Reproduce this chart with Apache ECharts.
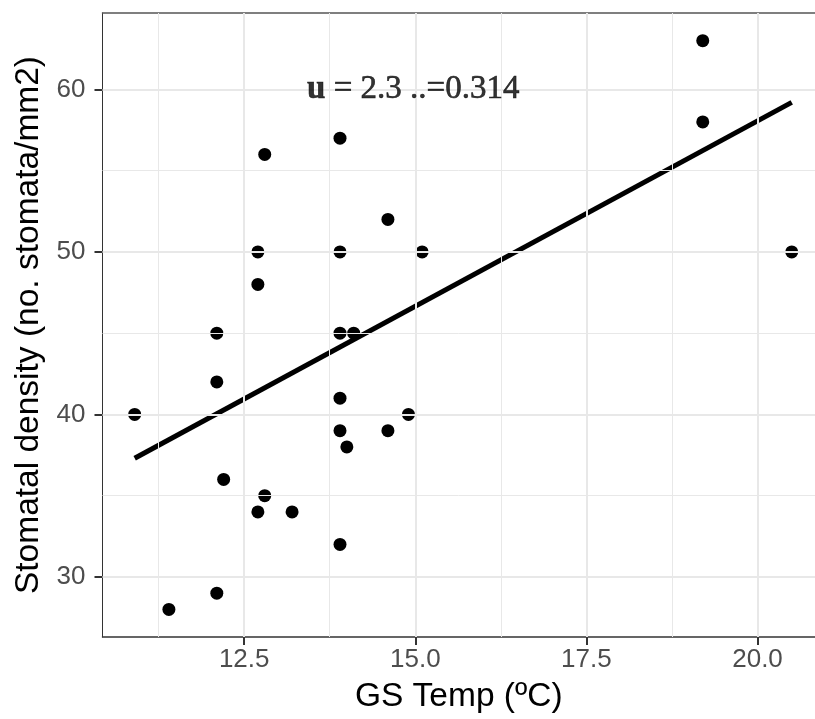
<!DOCTYPE html>
<html>
<head>
<meta charset="utf-8">
<title>Stomatal density vs GS Temp</title>
<script src="https://cdn.jsdelivr.net/npm/echarts@6/dist/echarts.min.js"></script>
<style>
  html, body { margin: 0; padding: 0; background: #fff; }
  #main { width: 815px; height: 719px; }
</style>
</head>
<body>
<div id="main"></div>
<script>
// points: [GS temp, stomatal density]
var gsTemp = [12.8, 13.9, 14.6, 12.7, 13.9, 15.1, 12.7, 12.1, 13.9, 14.1, 12.1, 13.9, 10.9, 14.9,
              13.9, 14.6, 14.0, 12.2, 12.8, 12.7, 13.2, 13.9, 12.1, 11.4, 19.2, 19.2, 20.5];
var density = [56, 57, 52, 50, 50, 50, 48, 45, 45, 45, 42, 41, 40, 40,
               39, 39, 38, 36, 35, 34, 34, 32, 29, 28, 63, 58, 50];

// fitted line ends
var fitX = [10.9, 20.5];
var fitY = [37.3, 59.2];

// axes
var xRange = [10.43, 20.84];
var yRange = [26.3, 64.7];
var xTicks = [12.5, 15.0, 17.5, 20.0];
var xMinor = [11.25, 13.75, 16.25, 18.75];
var yTicks = [30, 40, 50, 60];
var yMinor = [35, 45, 55];

var annotText = '{b|u} = 2.3 ..=0.314';
var annotAt = [14.97, 60];

var points = [];
for (var i = 0; i < gsTemp.length; i++) {
    points.push([gsTemp[i], density[i]]);
}
var fitLine = [[fitX[0], fitY[0]], [fitX[1], fitY[1]]];

function gridLines(vals, key, width) {
    return vals.map(function (v) {
        var o = {};
        o[key] = v;
        o.lineStyle = { width: width };
        return o;
    });
}
var gridData = []
    .concat(gridLines(xMinor, 'xAxis', 1))
    .concat(gridLines(yMinor, 'yAxis', 1))
    .concat(gridLines(xTicks, 'xAxis', 2))
    .concat(gridLines(yTicks, 'yAxis', 2));

var tickFont = { fontFamily: 'Liberation Sans, Arial, sans-serif', fontSize: 26, color: '#4d4d4d' };
var titleFont = { fontFamily: 'Liberation Sans, Arial, sans-serif', fontSize: 33.5, color: '#000' };

var myChart = echarts.init(document.getElementById('main'));
var option = {
    animation: false,
    backgroundColor: '#ffffff',
    grid: { left: 102.5, right: 0, top: 13, bottom: 81.5 },
    xAxis: [{
        type: 'value',
        min: xRange[0],
        max: xRange[1],
        name: 'GS Temp (ºC)',
        nameLocation: 'middle',
        nameGap: 43,
        nameTextStyle: titleFont,
        axisLine: { show: true, onZero: false, lineStyle: { color: '#333', width: 1.5 } },
        axisTick: { show: true, length: 8, lineStyle: { color: '#333', width: 2 }, customValues: xTicks },
        axisLabel: Object.assign({ margin: 10, customValues: xTicks,
            formatter: function (v) { return v.toFixed(1); } }, tickFont),
        splitLine: { show: false }
    }, {
        type: 'value',
        position: 'top',
        min: xRange[0],
        max: xRange[1],
        axisLine: { show: true, onZero: false, lineStyle: { color: '#555', width: 1.5 } },
        axisTick: { show: false },
        axisLabel: { show: false },
        splitLine: { show: false }
    }],
    yAxis: {
        type: 'value',
        min: yRange[0],
        max: yRange[1],
        name: 'Stomatal density (no. stomata/mm2)',
        nameLocation: 'middle',
        nameGap: 54,
        nameTextStyle: titleFont,
        axisLine: { show: true, onZero: false, lineStyle: { color: '#333', width: 1 } },
        axisTick: { show: true, length: 8, lineStyle: { color: '#333', width: 2 }, customValues: yTicks },
        axisLabel: Object.assign({ margin: 17, customValues: yTicks }, tickFont),
        splitLine: { show: false }
    },
    series: [
        {
            // panel grid
            type: 'scatter',
            data: [],
            z: 0,
            silent: true,
            markLine: {
                silent: true,
                symbol: 'none',
                animation: false,
                label: { show: false },
                lineStyle: { color: '#e8e8e8', type: 'solid' },
                data: gridData
            }
        },
        {
            type: 'line',
            data: fitLine,
            z: 3,
            symbol: 'none',
            lineStyle: { color: '#000', width: 5 }
        },
        {
            type: 'scatter',
            data: points,
            z: 4,
            symbol: 'circle',
            symbolSize: 13,
            itemStyle: { color: '#000', opacity: 1 }
        },
        {
            type: 'scatter',
            data: [annotAt],
            z: 5,
            symbolSize: 1,
            itemStyle: { color: 'rgba(0,0,0,0)' },
            label: {
                show: true,
                position: 'inside',
                formatter: annotText,
                fontFamily: 'Liberation Serif, Times New Roman, serif',
                fontSize: 33,
                color: '#000',
                textBorderColor: '#000',
                textBorderWidth: 0.6,
                rich: {
                    b: {
                        fontFamily: 'Liberation Serif, Times New Roman, serif',
                        fontSize: 33,
                        fontWeight: 'bold',
                        color: '#000'
                    }
                }
            }
        }
    ]
};
myChart.setOption(option);
</script>
</body>
</html>
